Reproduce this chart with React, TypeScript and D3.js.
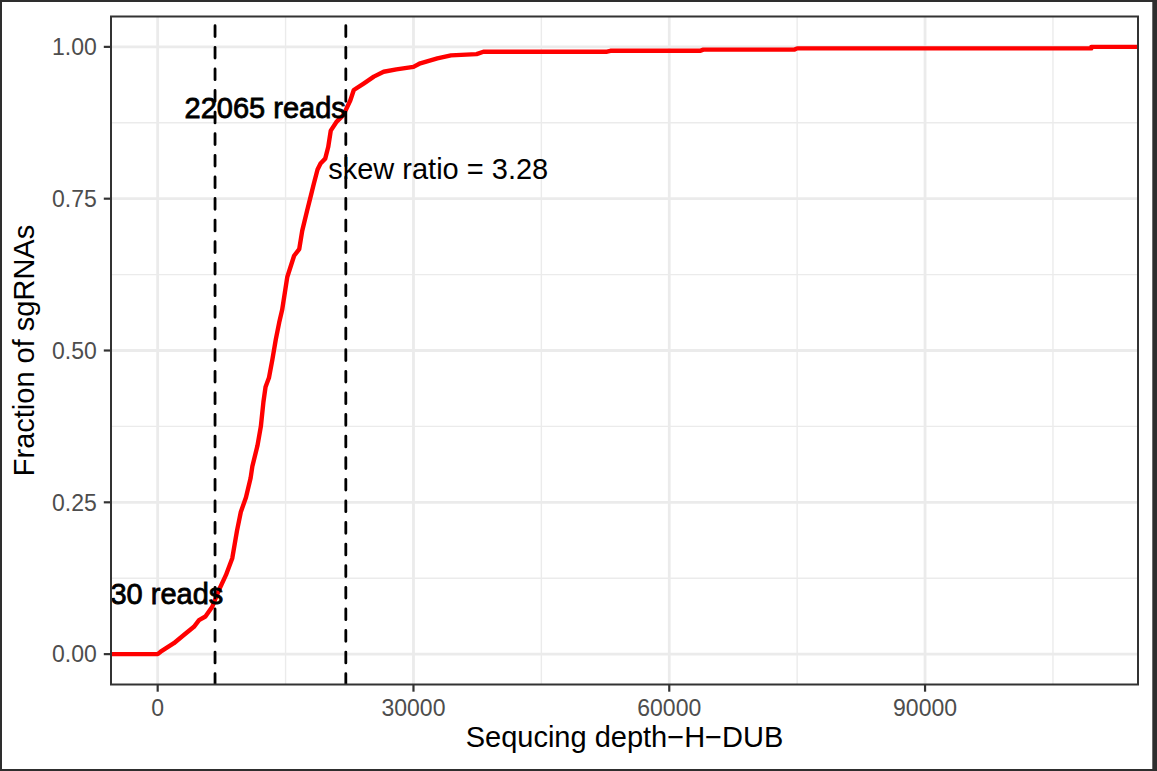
import React from "react";
import * as d3 from "d3";

// ECDF of sequencing depth
const depth = [0, 350, 1900, 3100, 4250, 4850, 5600, 6400, 7200, 8000, 8750, 9300, 9750, 10350, 10900, 11100, 11700, 12100, 12400, 12650, 13050, 13450, 13850, 14250, 14600, 15200, 16000, 16600, 16950, 17500, 17930, 18320, 18750, 19100, 19650, 20000, 20300, 21000, 21800, 22600, 23000, 24200, 25350, 26500, 28000, 30000, 30800, 32800, 34400, 37400, 38200, 52700, 53100, 63600, 64000, 74700, 75000, 109500, 109500];
const fraction = [0, 0.004, 0.018, 0.032, 0.045, 0.056, 0.062, 0.078, 0.106, 0.13, 0.158, 0.203, 0.234, 0.258, 0.29, 0.309, 0.343, 0.375, 0.415, 0.44, 0.455, 0.485, 0.518, 0.546, 0.567, 0.621, 0.656, 0.667, 0.697, 0.729, 0.753, 0.775, 0.798, 0.808, 0.816, 0.835, 0.862, 0.877, 0.888, 0.912, 0.929, 0.94, 0.951, 0.959, 0.963, 0.967, 0.973, 0.981, 0.986, 0.988, 0.992, 0.992, 0.9935, 0.9935, 0.9955, 0.9955, 0.9975, 0.9975, 1.0];

const vlines = [6727, 22065];
const labelTexts = ["30 reads", "22065 reads", "skew ratio = 3.28"];
const labelX = [7700, 22065, 20000];
const labelY = [0.1, 0.9, 0.8];
const labelAnchor = ["end", "end", "start"];
const labelHeavy = [true, true, false];

const xTicks = [0, 30000, 60000, 90000];
const xMinor = [15000, 45000, 75000, 105000];
const yTicks = [0, 0.25, 0.5, 0.75, 1];
const yMinor = [0.125, 0.375, 0.625, 0.875];
const yTickLabels = ["0.00", "0.25", "0.50", "0.75", "1.00"];

const xTitle = "Sequcing depth\u2212H\u2212DUB";
const yTitle = "Fraction of sgRNAs";

const W = 1157, H = 771;
const P = { left: 111, right: 1138, top: 16.5, bottom: 684.5 };
const FONT = "'Liberation Sans', Arial, Helvetica, sans-serif";

export default function App() {
  const xMin = d3.min(depth)!, xMax = d3.max(depth)!;
  const xr = xMax - xMin;
  const x = d3.scaleLinear().domain([xMin - 0.05 * xr, xMax + 0.05 * xr]).range([P.left, P.right]);
  const y = d3.scaleLinear().domain([-0.05, 1.05]).range([P.bottom, P.top]);

  const pts: [number, number][] = depth.map((d, i) => [d, fraction[i]]);
  const [d0, d1] = x.domain();
  const full: [number, number][] = [[d0, 0], ...pts, [d1, 1]];
  const line = d3.line<[number, number]>().x((d) => x(d[0])).y((d) => y(d[1])).curve(d3.curveLinear);

  const tickLen = 7.2;
  return (
    <svg width={W} height={H} style={{ position: "absolute", left: 0, top: 0, background: "#fff" }} fontFamily={FONT}>
      <defs>
        <clipPath id="panel">
          <rect x={P.left} y={P.top} width={P.right - P.left} height={P.bottom - P.top} />
        </clipPath>
      </defs>
      <rect x={0} y={0} width={W} height={H} fill="#fff" />
      {/* grid */}
      <g clipPath="url(#panel)">
        {xMinor.map((t) => (
          <line key={"xm" + t} x1={x(t)} x2={x(t)} y1={P.top} y2={P.bottom} stroke="#ebebeb" strokeWidth={1.4} />
        ))}
        {yMinor.map((t) => (
          <line key={"ym" + t} y1={y(t)} y2={y(t)} x1={P.left} x2={P.right} stroke="#ebebeb" strokeWidth={1.4} />
        ))}
        {xTicks.map((t) => (
          <line key={"xg" + t} x1={x(t)} x2={x(t)} y1={P.top} y2={P.bottom} stroke="#ebebeb" strokeWidth={2.8} />
        ))}
        {yTicks.map((t) => (
          <line key={"yg" + t} y1={y(t)} y2={y(t)} x1={P.left} x2={P.right} stroke="#ebebeb" strokeWidth={2.8} />
        ))}
        <path d={line(full) || ""} fill="none" stroke="#ff0000" strokeWidth={4.4} strokeLinejoin="round" />
        {vlines.map((v) => (
          <line key={"v" + v} x1={x(v)} x2={x(v)} y1={P.bottom} y2={P.top} stroke="#000" strokeWidth={2.8}
            strokeDasharray="10.8 10.8" strokeLinecap="round" />
        ))}
        {labelTexts.map((t, i) => (
          <text key={t} x={x(labelX[i])} y={y(labelY[i])} dy="0.358em" fontSize={29} textAnchor={labelAnchor[i]}
            fill="#000" stroke={labelHeavy[i] ? "#000" : "none"} strokeWidth={labelHeavy[i] ? 0.8 : 0}>
            {t}
          </text>
        ))}
      </g>
      {/* panel border */}
      <rect x={P.left} y={P.top} width={P.right - P.left} height={P.bottom - P.top} fill="none" stroke="#333333" strokeWidth={2} />
      {/* axes ticks */}
      {xTicks.map((t) => (
        <g key={"xt" + t}>
          <line x1={x(t)} x2={x(t)} y1={P.bottom} y2={P.bottom + tickLen} stroke="#333333" strokeWidth={2.2} />
          <text x={x(t)} y={716} fontSize={23} textAnchor="middle" fill="#4d4d4d">{d3.format("d")(t)}</text>
        </g>
      ))}
      {yTicks.map((t, i) => (
        <g key={"yt" + t}>
          <line x1={P.left - tickLen} x2={P.left} y1={y(t)} y2={y(t)} stroke="#333333" strokeWidth={2.2} />
          <text x={96.8} y={y(t)} dy="0.358em" fontSize={23} textAnchor="end" fill="#4d4d4d">{yTickLabels[i]}</text>
        </g>
      ))}
      <text x={(P.left + P.right) / 2} y={746.7} fontSize={29} textAnchor="middle" fill="#000">{xTitle}</text>
      <text transform={`translate(33.5, ${(P.top + P.bottom) / 2}) rotate(-90)`} fontSize={29} textAnchor="middle" fill="#000">{yTitle}</text>
      {/* outer frame */}
      <rect x={0} y={0} width={W} height={2} fill="#2e2e2e" />
      <rect x={0} y={0} width={2} height={H} fill="#2e2e2e" />
      <rect x={1152.3} y={0} width={W - 1152.3} height={H} fill="#2e2e2e" />
      <rect x={0} y={769} width={W} height={2} fill="#2e2e2e" />
    </svg>
  );
}
